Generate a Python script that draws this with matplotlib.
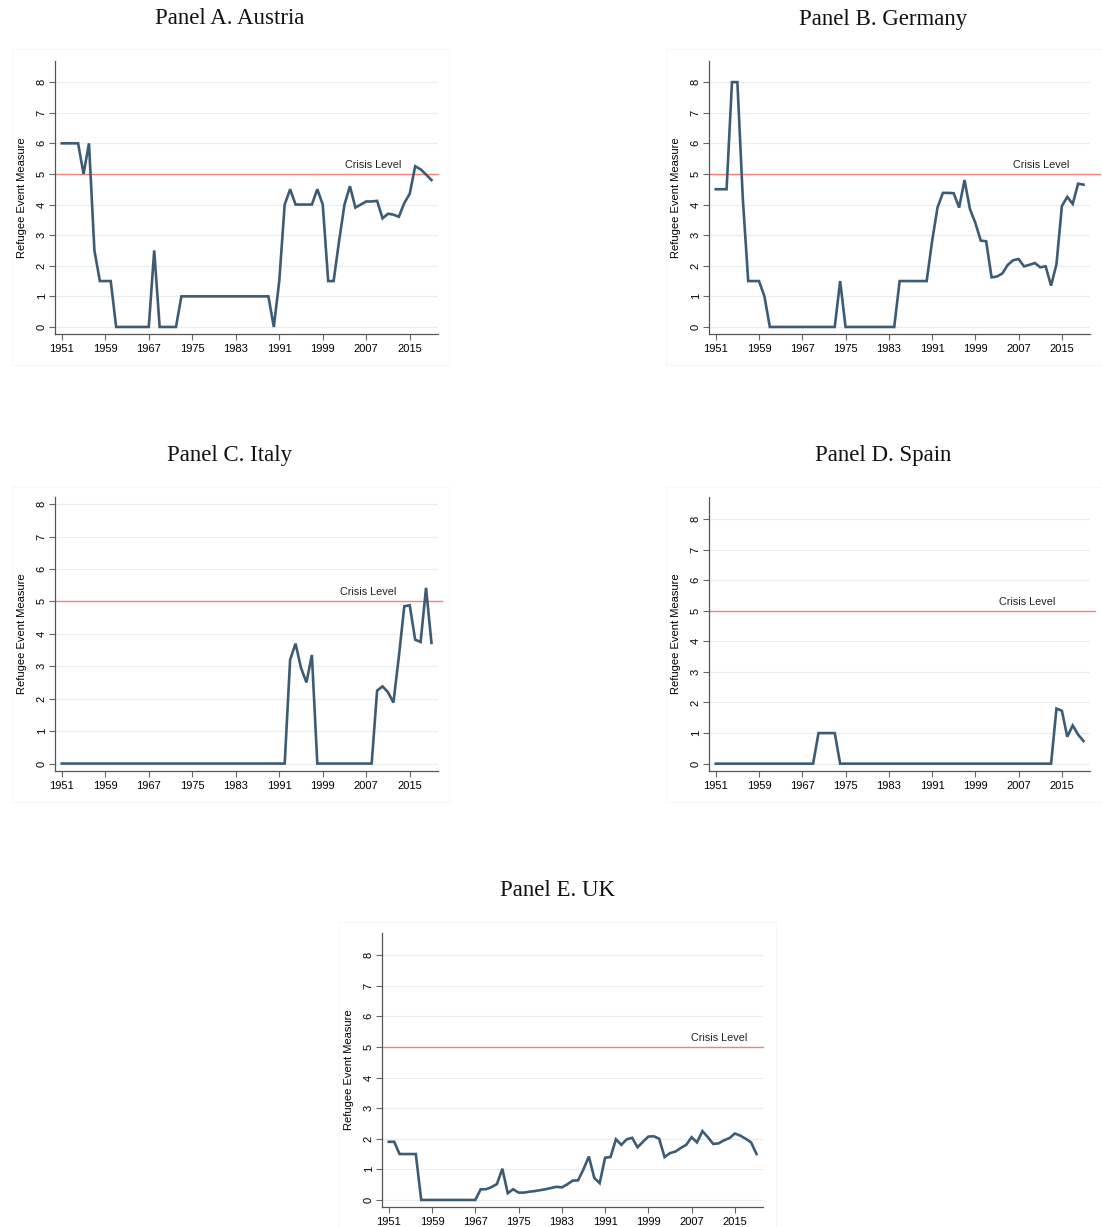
import numpy as np
import matplotlib.pyplot as plt
from matplotlib.patches import Rectangle

years = np.arange(1951, 2020)

austria = [6, 6, 6, 6, 5, 6, 2.5, 1.5, 1.5, 1.5,
           0, 0, 0, 0, 0, 0, 0, 2.5, 0, 0,
           0, 0, 1, 1, 1, 1, 1, 1, 1, 1,
           1, 1, 1, 1, 1, 1, 1, 1, 1, 0,
           1.5, 4, 4.5, 4, 4, 4, 4, 4.5, 4, 1.5,
           1.5, 2.8, 4, 4.6, 3.9, 4.0, 4.1, 4.1, 4.12, 3.55,
           3.7, 3.67, 3.6, 4.05, 4.35, 5.25, 5.15, 4.98, 4.8]

germany = [4.5, 4.5, 4.5, 8, 8, 4.2, 1.5, 1.5, 1.5, 1.0,
           0, 0, 0, 0, 0, 0, 0, 0, 0, 0,
           0, 0, 0, 1.5, 0, 0, 0, 0, 0, 0,
           0, 0, 0, 0, 1.5, 1.5, 1.5, 1.5, 1.5, 1.5,
           2.8, 3.9, 4.38, 4.38, 4.37, 3.9, 4.8, 3.85, 3.4, 2.82,
           2.8, 1.62, 1.65, 1.75, 2.03, 2.18, 2.22, 1.98, 2.03, 2.09,
           1.95, 1.98, 1.35, 2.05, 3.95, 4.25, 4.02, 4.68, 4.65]

italy = [0] * 42 + [3.2, 3.7, 2.95, 2.5, 3.35, 0,
                    0, 0, 0, 0, 0, 0, 0, 0, 0, 0,
                    2.25, 2.38, 2.2, 1.88, 3.3, 4.85, 4.88, 3.82, 3.75, 5.42,
                    3.72]

spain = [0] * 19 + [1, 1, 1, 1] + [0] * 40 + [1.8, 1.73, 0.88, 1.25, 0.95, 0.74]

uk = [1.9, 1.9, 1.5, 1.5, 1.5, 1.5, 0, 0, 0, 0,
      0, 0, 0, 0, 0, 0, 0, 0.35, 0.35, 0.42,
      0.52, 1.02, 0.22, 0.35, 0.24, 0.24, 0.27, 0.29, 0.32, 0.35,
      0.39, 0.43, 0.41, 0.51, 0.63, 0.64, 1.0, 1.42, 0.72, 0.55,
      1.38, 1.4, 1.98, 1.8, 1.98, 2.03, 1.72, 1.9, 2.07, 2.08,
      2.0, 1.4, 1.53, 1.58, 1.7, 1.8, 2.05, 1.88, 2.25, 2.05,
      1.83, 1.85, 1.95, 2.02, 2.17, 2.1, 2.0, 1.88, 1.5]

titles = ['Panel A. Austria', 'Panel B. Germany', 'Panel C. Italy',
          'Panel D. Spain', 'Panel E. UK']
series = [austria, germany, italy, spain, uk]
crisis_level = 5
xticks = np.arange(1951, 2016, 8)
yticks = np.arange(0, 9)

W, H = 1102, 1227
fig = plt.figure(figsize=(W / 100, H / 100), dpi=100)

# pixel boxes: axes (left, right, top, bottom), y-limits, label x, title centre, line overhang
panels = [
    dict(ax=(55, 438, 61, 334), ylim=(-0.23, 8.69), tx=2013.4, title=(230, 19), over=1.0,
         region=(12, 449, 49, 365)),
    dict(ax=(709, 1090, 61, 334), ylim=(-0.23, 8.69), tx=2016.3, title=(883, 19), over=1.026,
         region=(666, 1110, 49, 365)),
    dict(ax=(55, 438, 497, 771), ylim=(-0.23, 8.22), tx=2012.5, title=(230, 455), over=1.011,
         region=(12, 449, 487, 802)),
    dict(ax=(709, 1090, 497, 771), ylim=(-0.24, 8.72), tx=2013.8, title=(883, 455), over=1.013,
         region=(666, 1110, 487, 802)),
    dict(ax=(382, 763, 933, 1207), ylim=(-0.23, 8.72), tx=2017.3, title=(557, 891), over=1.0,
         region=(339, 776, 922, 1240)),
]

line_col = '#3d5c74'
sans = 'Liberation Sans'

for p, vals, title in zip(panels, series, titles):
    # faint graph-region frame
    x0, x1, y0, y1 = p['region']
    fig.patches.append(Rectangle((x0 / W, 1 - y1 / H), (x1 - x0) / W, (y1 - y0) / H,
                                 transform=fig.transFigure, fill=False,
                                 edgecolor='#f7f7f7', linewidth=0.8))

    l, r, t, b = p['ax']
    ax = fig.add_axes([l / W, 1 - b / H, (r - l) / W, (b - t) / H])
    ax.set_xlim(1949.75, 2020.2)
    ax.set_ylim(*p['ylim'])

    for y in yticks:
        if y != crisis_level:
            ax.axhline(y, color='#e6eef0', linewidth=0.9, zorder=1)
    ax.plot([0, p['over']], [crisis_level, crisis_level], transform=ax.get_yaxis_transform(),
            color='#f47f7f', linewidth=1.0, clip_on=False, zorder=2)
    ax.plot(years, vals, color=line_col, linewidth=1.9, solid_joinstyle='miter', zorder=3)
    ax.text(p['tx'], crisis_level + 0.2, 'Crisis Level', ha='right', va='baseline',
            fontsize=7.8, family=sans, color='#222222')

    for s in ['top', 'right']:
        ax.spines[s].set_visible(False)
    for s in ['left', 'bottom']:
        ax.spines[s].set_color('#555555')
        ax.spines[s].set_linewidth(0.9)

    ax.set_xticks(xticks)
    ax.set_yticks(yticks)
    ax.set_xticklabels([str(x) for x in xticks], family=sans, fontsize=8)
    ax.set_yticklabels([str(y) for y in yticks], family=sans, fontsize=8,
                       rotation=90, va='center')
    ax.tick_params(length=4, width=0.8, color='#666666', pad=2)
    ax.tick_params(axis='x', pad=3.5)
    ax.set_ylabel('Refugee Event Measure', family=sans, fontsize=8, labelpad=7)

    cx, cy = p['title']
    fig.text(cx / W, 1 - cy / H, title, ha='center', va='center',
             family='Liberation Serif', fontsize=16.5, color='#111111')

fig.savefig('out.png', dpi=100, facecolor='white')
